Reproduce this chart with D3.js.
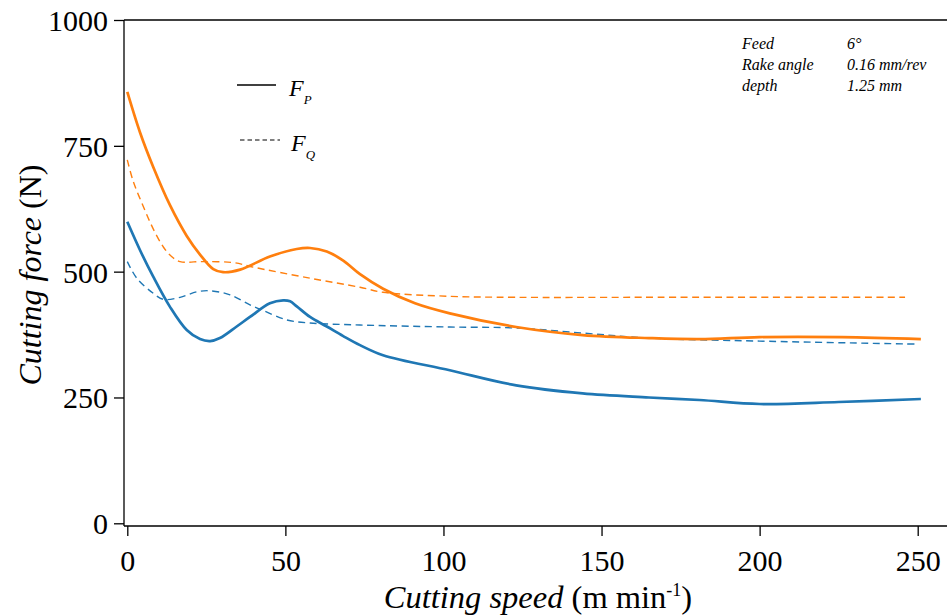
<!DOCTYPE html>
<html><head><meta charset="utf-8">
<script src="https://cdn.jsdelivr.net/npm/d3@7"></script>
<style>body{margin:0;background:#fff}svg{display:block}text{font-family:"Liberation Serif","DejaVu Serif",serif;fill:#000}</style>
</head><body><svg id="c" width="947" height="616"></svg>
<script>
const xTicks=[0,50,100,150,200,250];
const yTicks=[0,250,500,750,1000];
// orange solid F_P
const fpOrangeX=[0,4,8.2,13.5,18.8,23,27.2,30.3,35.7,45.1,53.6,57.8,63.1,68.3,73.6,80.9,91,102,123,144,165,181,200,226,251];
const fpOrangeY=[857,777,708,632,571,534,505,499,504,530,545,547,540,522,495,466,437,417,390,374,368,366,370,370,366];
// orange dashed F_Q
const fqOrangeX=[0,1.9,5.1,8.2,11.4,14,16.7,24,33.5,39.8,57.8,73.6,80.9,102,123,163,246];
const fqOrangeY=[722,679,629,585,549,530,520,520,518,509,487,469,459,451,449,449,449];
// blue solid F_P
const fpBlueX=[0,4,8.2,13.5,18.8,23,26.2,29.3,34.6,38.8,45.1,49.3,51.5,53.6,57.8,63.1,68.3,73.6,80.9,102,123,144,165,181,200,225,251];
const fpBlueY=[599,543,490,430,384,366,362,368,391,410,437,443,441,431,410,391,372,354,334,304,274,258,250,245,237,241,247];
// blue dashed F_Q
const fqBlueX=[0,3,8.2,11.4,16.7,22,26.2,32.5,38.8,42.9,50.5,57.8,73.6,102,123,144,165,200,250];
const fqBlueY=[520,487,457,445,449,460,462,454,434,423,404,398,394,390,388,378,368,362,356];
const infoLabels=["Feed","Rake angle","depth"];
const infoValues=["6°","0.16 mm/rev","1.25 mm"];

const svg=d3.select("#c");
const x=d3.scaleLinear().domain([0,250]).range([127.3,917.7]);
const y=d3.scaleLinear().domain([0,1000]).range([523.3,20]);
const spineX=124, spineY=526;

svg.append("line").attr("x1",spineX).attr("x2",spineX).attr("y1",20).attr("y2",spineY).attr("stroke","#000").attr("stroke-width",1.3);
svg.append("line").attr("x1",spineX).attr("x2",947).attr("y1",spineY).attr("y2",spineY).attr("stroke","#000").attr("stroke-width",1.3);
svg.append("line").attr("x1",spineX).attr("x2",947).attr("y1",20).attr("y2",20).attr("stroke","#000").attr("stroke-width",1.3);

const ya=svg.append("g").attr("transform",`translate(${spineX},0)`).call(d3.axisLeft(y).tickValues(yTicks).tickSize(10).tickPadding(6).tickFormat(d3.format("d")));
ya.select(".domain").remove();
ya.selectAll("line").attr("stroke","#000").attr("stroke-width",1.3);
ya.selectAll("text").attr("font-size",30).attr("dy","0.35em").style("font-family",'"Liberation Serif",serif');

const xa=svg.append("g").attr("transform",`translate(0,${spineY})`).call(d3.axisBottom(x).tickValues(xTicks).tickSize(10).tickPadding(14).tickFormat(d3.format("d")));
xa.select(".domain").remove();
xa.selectAll("line").attr("stroke","#000").attr("stroke-width",1.3);
xa.selectAll("text").attr("font-size",30).style("font-family",'"Liberation Serif",serif');

const line=d3.line().x(d=>x(d[0])).y(d=>y(d[1])).curve(d3.curveCatmullRom.alpha(0.5));
const series=[
 {xs:fqOrangeX,ys:fqOrangeY,c:"#ff7f0e",w:1.4,dash:"7,4.5"},
 {xs:fqBlueX,ys:fqBlueY,c:"#1f77b4",w:1.4,dash:"7,4.5"},
 {xs:fpOrangeX,ys:fpOrangeY,c:"#ff7f0e",w:2.7,dash:null},
 {xs:fpBlueX,ys:fpBlueY,c:"#1f77b4",w:2.7,dash:null}
];
series.forEach(s=>{
  svg.append("path").datum(s.xs.map((v,i)=>[v,s.ys[i]])).attr("d",line).attr("fill","none")
   .attr("stroke",s.c).attr("stroke-width",s.w).attr("stroke-dasharray",s.dash);
});

svg.append("line").attr("x1",237).attr("x2",276).attr("y1",85).attr("y2",85).attr("stroke","#000").attr("stroke-width",1.3);
svg.append("line").attr("x1",240).attr("x2",280).attr("y1",140).attr("y2",140).attr("stroke","#000").attr("stroke-width",1.1).attr("stroke-dasharray","4.5,3");
const l1=svg.append("text").attr("x",289).attr("y",96).attr("font-size",24).attr("font-style","italic");
l1.append("tspan").text("F");
l1.append("tspan").attr("font-size",13).attr("dy",8).text("P");
const l2=svg.append("text").attr("x",291).attr("y",151).attr("font-size",24).attr("font-style","italic");
l2.append("tspan").text("F");
l2.append("tspan").attr("font-size",13).attr("dy",8).text("Q");

infoLabels.forEach((t,i)=>{
  svg.append("text").attr("x",742).attr("y",49+i*21).attr("font-size",16).attr("font-style","italic").text(t);
  svg.append("text").attr("x",847).attr("y",49+i*21).attr("font-size",16).attr("font-style","italic").text(infoValues[i]);
});

const xl=svg.append("text").attr("x",538).attr("y",608).attr("text-anchor","middle").attr("font-size",32.5);
xl.append("tspan").attr("font-style","italic").text("Cutting speed");
xl.append("tspan").text(" (m min");
xl.append("tspan").attr("font-size",18).attr("dy",-12).text("-1");
xl.append("tspan").attr("dy",12).text(")");

const yl=svg.append("text").attr("transform","translate(41,275) rotate(-90)").attr("text-anchor","middle").attr("font-size",32);
yl.append("tspan").attr("font-style","italic").text("Cutting force");
yl.append("tspan").text(" (N)");
</script></body></html>
